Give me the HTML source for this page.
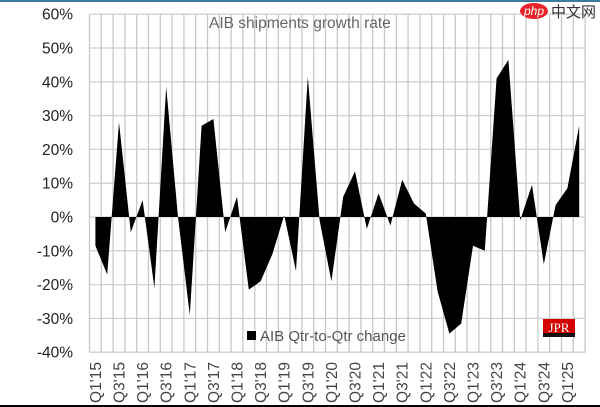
<!DOCTYPE html>
<html><head><meta charset="utf-8"><style>
html,body{margin:0;padding:0;background:#fff;}
svg{display:block;font-family:"Liberation Sans",Calibri,sans-serif;}
</style></head><body>
<svg id="c" width="600" height="407" viewBox="0 0 600 407" xmlns="http://www.w3.org/2000/svg">
<rect x="0" y="0" width="600" height="407" fill="#fff"/>
<rect x="0" y="0" width="600" height="2" fill="#3d7aa0"/>
<rect x="0" y="405" width="600" height="2" fill="#000"/>
<g id="grid"></g>
<polygon id="area" fill="#000"/>
<g id="ylab" font-size="15.5" fill="#222" text-anchor="end"></g>
<g id="xlab" font-size="15.5" fill="#444"></g>
<text x="209" y="28" font-size="15.5" fill="#666">AIB shipments growth rate</text>
<rect x="247" y="331" width="9" height="9" fill="#000"/>
<text x="260" y="341" font-size="15" fill="#555">AIB Qtr-to-Qtr change</text>
<rect x="543" y="319" width="32" height="16" fill="#d40000"/>
<rect x="543" y="333" width="32" height="4" fill="#111"/>
<text x="559" y="332" font-size="13" fill="#fff" text-anchor="middle" font-family="Liberation Serif,serif">JPR</text>
<g>
<ellipse cx="534" cy="11" rx="14" ry="8" fill="#e8242a"/>
<text x="534" y="15" font-size="12" fill="#fff" text-anchor="middle" font-style="italic">php</text>
<text x="551" y="17" font-size="15" fill="#333" font-family="Noto Sans CJK SC,sans-serif">中文网</text>
</g>
</svg>
<script>
const ns="http://www.w3.org/2000/svg";
const L=89.5,W=11.8,N=42,Y0=217,S=3.38;
const y=v=>Y0-v*S;
const g=document.getElementById('grid');
function ln(x1,y1,x2,y2,c){const e=document.createElementNS(ns,'line');e.setAttribute('x1',x1);e.setAttribute('y1',y1);e.setAttribute('x2',x2);e.setAttribute('y2',y2);e.setAttribute('stroke',c);e.setAttribute('stroke-width',1.3);g.appendChild(e);}
for(let v=-40;v<=60;v+=10)ln(L,y(v),L+N*W,y(v),'#d0d0d0');
for(let i=0;i<=N;i++)ln(L+i*W,y(60),L+i*W,y(-40),'#c8c8c8');
const d=[-8.5,-17,28,-4.5,5,-21,38.5,0,-29,27,29,-4.5,6,-21.5,-19,-11,0.5,-16,41.5,-1,-19,6,13.5,-3.5,7,-2.5,11,4,1,-22,-34.5,-31.5,-8.5,-10,41,46.5,-1,9.5,-14,3.5,8.5,27];
let p=[];const cx=i=>L+W*(i+0.5);
p.push(cx(0)+','+Y0);
d.forEach((v,i)=>p.push(cx(i)+','+y(v)));
p.push(cx(N-1)+','+Y0);
document.getElementById('area').setAttribute('points',p.join(' '));
const yl=document.getElementById('ylab');
for(let v=-40;v<=60;v+=10){const t=document.createElementNS(ns,'text');t.setAttribute('x',73);t.setAttribute('y',y(v)+5.5);t.textContent=v+'%';yl.appendChild(t);}
const xl=document.getElementById('xlab');
for(let i=0;i<N;i+=2){const yr=15+Math.floor(i/4),q=(i%4)+1;const t=document.createElementNS(ns,'text');const x=cx(i)+5.5;t.setAttribute('transform','translate('+x+',403) rotate(-90)');t.setAttribute('textLength','41');t.textContent='Q'+q+"'"+yr;xl.appendChild(t);}
</script>
</body></html>
